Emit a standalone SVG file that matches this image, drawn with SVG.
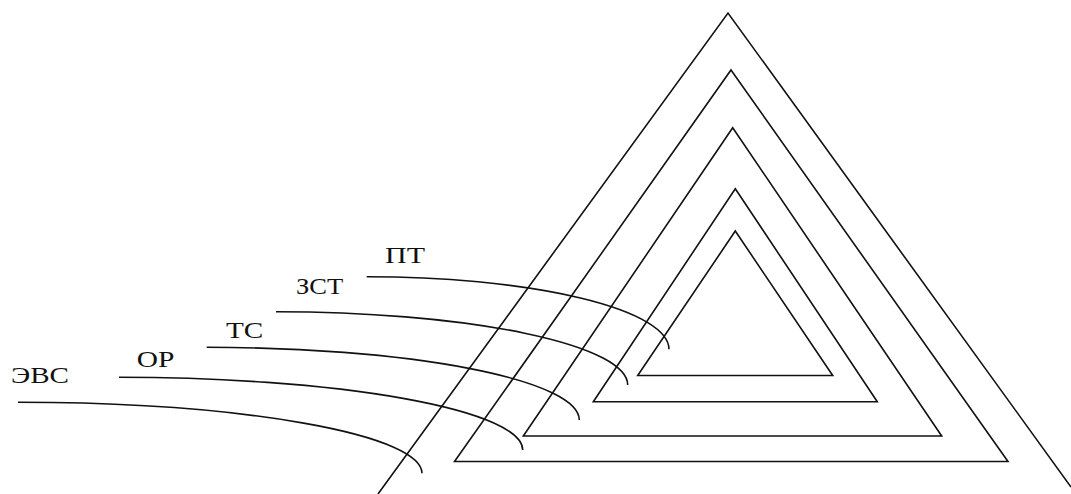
<svg xmlns="http://www.w3.org/2000/svg" width="1071" height="494" viewBox="0 0 1071 494">
<style>
.t{fill:none;stroke:#111;stroke-width:1.6;stroke-linejoin:miter}
.c{fill:none;stroke:#111;stroke-width:1.6}
.l{font-family:"Liberation Serif","Times New Roman",serif;font-size:24px;fill:#111}
</style>
<rect width="1071" height="494" fill="#fff"/>
<g id="triangle-outer"><polyline class="t" points="378,494 728,13 1071,487"/></g>
<g id="triangle-2"><polygon class="t" points="731,70 1008,461.5 454.5,461.5"/></g>
<g id="triangle-3"><polygon class="t" points="732.7,127.7 941.7,436 523.3,436"/></g>
<g id="triangle-4"><polygon class="t" points="735.3,188.7 877.3,401.8 593.3,401.8"/></g>
<g id="triangle-5"><polygon class="t" points="735.3,231 832.7,375.5 637.7,375.5"/></g>
<g id="connectors">
<path class="c" d="M18,402.3 A404,71 0 0 1 422,473.3"/>
<path class="c" d="M119,377.3 A403.7,72.7 0 0 1 522.7,450"/>
<path class="c" d="M206.7,347.3 A372.6,72.7 0 0 1 579.3,420"/>
<path class="c" d="M276,311.7 A351.7,73.3 0 0 1 627.7,385"/>
<path class="c" d="M366.7,276.7 A302.3,72.6 0 0 1 669,349.3"/>
</g>
<g id="label-evs"><text class="l" x="11" y="383.3" textLength="58" lengthAdjust="spacingAndGlyphs">ЭВС</text></g>
<g id="label-or"><text class="l" x="136.7" y="366.7" textLength="37.6" lengthAdjust="spacingAndGlyphs">ОР</text></g>
<g id="label-ts"><text class="l" x="226" y="338.3" textLength="37.3" lengthAdjust="spacingAndGlyphs">ТС</text></g>
<g id="label-zst"><text class="l" x="296" y="294" textLength="47.3" lengthAdjust="spacingAndGlyphs">ЗСТ</text></g>
<g id="label-pt"><text class="l" x="385" y="263.3" textLength="40" lengthAdjust="spacingAndGlyphs">ПТ</text></g>
</svg>
